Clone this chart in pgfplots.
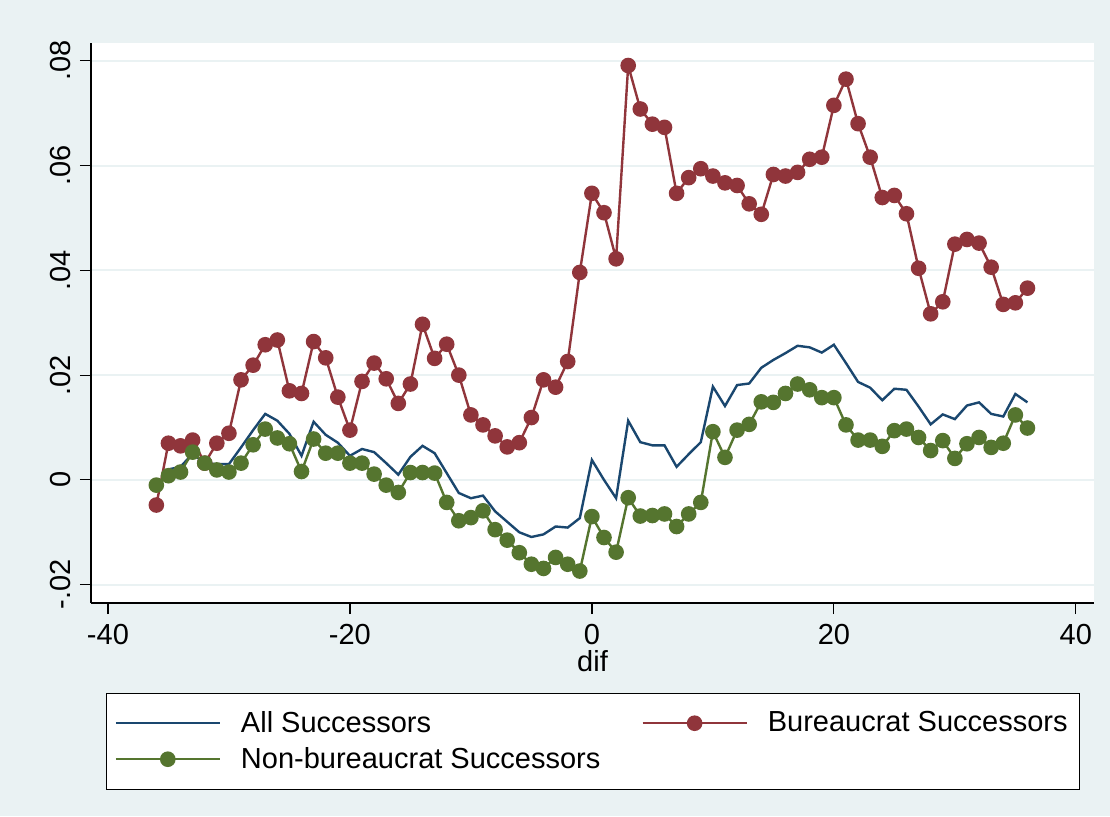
\documentclass[border=0pt]{standalone}
\usepackage{pgfplots}
\pgfplotsset{compat=1.18}
\usepackage{pgfplotstable}
\usepackage{fontspec}
\setmainfont{Liberation Sans}

\definecolor{statabg}{RGB}{234,242,243}
\definecolor{statanavy}{RGB}{26,71,111}
\definecolor{statamaroon}{RGB}{144,53,59}
\definecolor{statagreen}{RGB}{85,117,47}

% all successors (line only)
\pgfplotstableread{
dif val
-35 0.0020
-34 0.0025
-33 0.0050
-32 0.0032
-31 0.0030
-30 0.0030
-29 0.0062
-28 0.0095
-27 0.0126
-26 0.0113
-25 0.0088
-24 0.0046
-23 0.0111
-22 0.0086
-21 0.0071
-20 0.0046
-19 0.0059
-18 0.0053
-17 0.0032
-16 0.0010
-15 0.0044
-14 0.0065
-13 0.0051
-12 0.0013
-11 -0.0025
-10 -0.0035
-9 -0.0030
-8 -0.0060
-7 -0.0080
-6 -0.0100
-5 -0.0109
-4 -0.0104
-3 -0.0089
-2 -0.0091
-1 -0.0073
0 0.0038
1 0.0000
2 -0.0035
3 0.0113
4 0.0072
5 0.0066
6 0.0066
7 0.0025
8 0.0049
9 0.0072
10 0.0178
11 0.0141
12 0.0181
13 0.0184
14 0.0214
15 0.0229
16 0.0242
17 0.0256
18 0.0253
19 0.0243
20 0.0258
21 0.0223
22 0.0187
23 0.0176
24 0.0152
25 0.0174
26 0.0172
27 0.0140
28 0.0106
29 0.0125
30 0.0116
31 0.0142
32 0.0148
33 0.0126
34 0.0121
35 0.0164
36 0.0148
}\allsucc

% bureaucrat successors
\pgfplotstableread{
dif val
-36 -0.0048
-35 0.0070
-34 0.0065
-33 0.0076
-32 0.0032
-31 0.0070
-30 0.0089
-29 0.0191
-28 0.0219
-27 0.0258
-26 0.0267
-25 0.0170
-24 0.0165
-23 0.0264
-22 0.0233
-21 0.0158
-20 0.0095
-19 0.0188
-18 0.0223
-17 0.0193
-16 0.0146
-15 0.0183
-14 0.0297
-13 0.0232
-12 0.0259
-11 0.0200
-10 0.0124
-9 0.0105
-8 0.0084
-7 0.0063
-6 0.0071
-5 0.0119
-4 0.0191
-3 0.0177
-2 0.0226
-1 0.0396
0 0.0547
1 0.0510
2 0.0422
3 0.0791
4 0.0708
5 0.0679
6 0.0673
7 0.0547
8 0.0577
9 0.0594
10 0.0580
11 0.0567
12 0.0562
13 0.0527
14 0.0507
15 0.0583
16 0.0580
17 0.0587
18 0.0612
19 0.0616
20 0.0715
21 0.0765
22 0.0680
23 0.0616
24 0.0539
25 0.0543
26 0.0508
27 0.0404
28 0.0317
29 0.0340
30 0.0450
31 0.0459
32 0.0452
33 0.0406
34 0.0335
35 0.0338
36 0.0366
}\bureau

% non-bureaucrat successors
\pgfplotstableread{
dif val
-36 -0.0010
-35 0.0008
-34 0.0015
-33 0.0053
-32 0.0032
-31 0.0019
-30 0.0015
-29 0.0032
-28 0.0067
-27 0.0097
-26 0.0080
-25 0.0069
-24 0.0016
-23 0.0078
-22 0.0051
-21 0.0051
-20 0.0032
-19 0.0032
-18 0.0011
-17 -0.0010
-16 -0.0024
-15 0.0014
-14 0.0014
-13 0.0013
-12 -0.0043
-11 -0.0078
-10 -0.0072
-9 -0.0059
-8 -0.0095
-7 -0.0115
-6 -0.0139
-5 -0.0161
-4 -0.0169
-3 -0.0148
-2 -0.0161
-1 -0.0174
0 -0.0070
1 -0.0110
2 -0.0138
3 -0.0034
4 -0.0069
5 -0.0068
6 -0.0065
7 -0.0089
8 -0.0065
9 -0.0043
10 0.0092
11 0.0043
12 0.0095
13 0.0106
14 0.0149
15 0.0148
16 0.0165
17 0.0183
18 0.0172
19 0.0157
20 0.0157
21 0.0105
22 0.0076
23 0.0076
24 0.0064
25 0.0094
26 0.0097
27 0.0081
28 0.0056
29 0.0075
30 0.0041
31 0.0069
32 0.0081
33 0.0062
34 0.0070
35 0.0124
36 0.0099
}\nonbureau

\begin{document}
\begin{tikzpicture}
\fill[statabg] (0,0) rectangle (555pt,408pt);
\begin{axis}[
    at={(45.5pt,106.5pt)}, anchor=south west,
    scale only axis, width=501.5pt, height=280pt,
    xmin=-41.4, xmax=41.5, ymin=-0.0235, ymax=0.0834,
    axis lines*=left,
    axis line style={-, black, line width=0.6pt},
    axis background/.style={fill=white},
    tick align=outside, major tick length=5.5pt,
    tick style={black, line width=0.6pt},
    xtick={-40,-20,0,20,40}, xticklabels={-40,-20,0,20,40},
    ytick={-0.02,0,0.02,0.04,0.06,0.08},
    yticklabels={-.02,0,.02,.04,.06,.08},
    scaled y ticks=false,
    yticklabel style={rotate=90, anchor=south, xshift=0pt, yshift=1pt},
    xticklabel style={yshift=-1.5pt},
    tick label style={font=\fontsize{14.5}{17}\selectfont},
    ymajorgrids, grid style={statabg, line width=1pt},
    xlabel={dif},
    xlabel style={font=\fontsize{14.5}{17}\selectfont, yshift=4pt},
    legend columns=2,
    legend cell align=left,
    legend style={at={(0.01496,-0.160)}, anchor=north west,
        draw=black, line width=0.6pt, fill=white,
        font=\fontsize{14.5}{17}\selectfont,
        row sep=2pt, inner xsep=4pt, inner ysep=7pt,
        /tikz/every odd column/.append style={column sep=8pt},
        /tikz/every even column/.append style={column sep=18.5pt}},
    legend image code/.code={
        \draw[mark repeat=2, mark phase=2, #1]
            plot coordinates {(0pt,0pt) (26pt,0pt) (52pt,0pt)};
    },
]
\addplot[statanavy, line width=1.2pt, mark=none] table[x=dif, y=val] {\allsucc};
\addlegendentry{All Successors}
\addplot[statamaroon, line width=1.2pt, mark=*, mark size=3.3pt,
    mark options={fill=statamaroon, draw=statamaroon}] table[x=dif, y=val] {\bureau};
\addlegendentry{Bureaucrat Successors}
\addplot[statagreen, line width=1.2pt, mark=*, mark size=3.3pt,
    mark options={fill=statagreen, draw=statagreen}] table[x=dif, y=val] {\nonbureau};
\addlegendentry{Non-bureaucrat Successors}
\end{axis}
\end{tikzpicture}
\end{document}
